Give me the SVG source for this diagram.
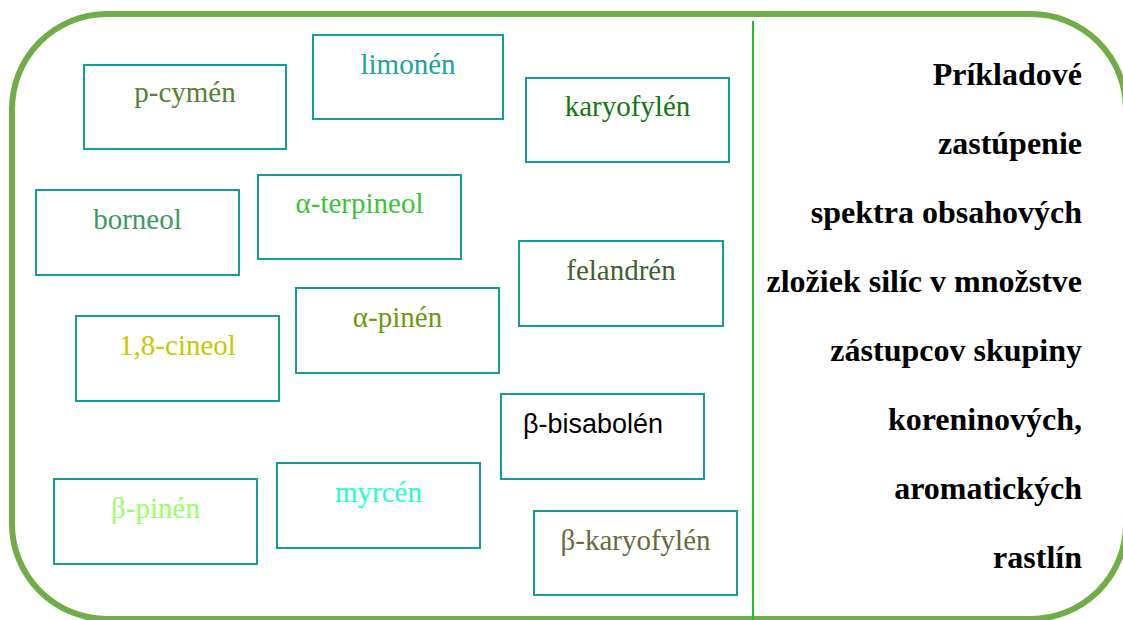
<svg xmlns="http://www.w3.org/2000/svg" width="1123" height="620" viewBox="0 0 1123 620">
<style>
.box{fill:#fff;stroke:#109E9A;stroke-width:2}
.lbl{font-family:'Liberation Serif','DejaVu Serif',serif;font-size:29px;text-anchor:middle}
.side{font-family:'Liberation Serif','DejaVu Serif',serif;font-size:32px;font-weight:bold;text-anchor:end;fill:#000}
</style>
<rect width="1123" height="620" fill="#fff"/>
<rect id="frame" x="12" y="14" width="1114" height="605" rx="95" ry="95" fill="none" stroke="#70AD47" stroke-width="6"/>
<g id="connectors">
<line x1="753" y1="21" x2="753" y2="620" stroke="#1DC31D" stroke-width="2"/>
</g>
<g id="n-pcymen"><rect class="box" x="84" y="65" width="202" height="84"/><text class="lbl" x="185" y="102" fill="#538135">p-cymén</text></g>
<g id="n-limonen"><rect class="box" x="313" y="35" width="190" height="84"/><text class="lbl" x="408" y="74" fill="#1CA4A0">limonén</text></g>
<g id="n-karyofylen"><rect class="box" x="526" y="78" width="203" height="84"/><text class="lbl" x="627.5" y="116" fill="#13790F">karyofylén</text></g>
<g id="n-borneol"><rect class="box" x="36" y="190" width="203" height="85"/><text class="lbl" x="137.5" y="229" fill="#3D9A5F">borneol</text></g>
<g id="n-aterpineol"><rect class="box" x="258" y="175" width="203" height="84"/><text class="lbl" x="359.5" y="213" fill="#3BC43B">α-terpineol</text></g>
<g id="n-felandren"><rect class="box" x="519" y="241" width="204" height="85"/><text class="lbl" x="621" y="280" fill="#3F5F2E">felandrén</text></g>
<g id="n-cineol"><rect class="box" x="76" y="316" width="203" height="85"/><text class="lbl" x="177.5" y="355" fill="#C8C800">1,8-cineol</text></g>
<g id="n-apinen"><rect class="box" x="296" y="288" width="203" height="85"/><text class="lbl" x="397.5" y="327" fill="#6B9A0C">α-pinén</text></g>
<g id="n-bbisabolen"><rect class="box" x="501" y="394" width="203" height="85"/><text x="523" y="433" font-family="'Liberation Sans',Arial,sans-serif" font-size="27" fill="#000">β-bisabolén</text></g>
<g id="n-bkaryofylen"><rect class="box" x="534" y="511" width="203" height="84"/><text class="lbl" x="635.5" y="550" fill="#6A6A3C">β-karyofylén</text></g>
<g id="n-bpinen"><rect class="box" x="54" y="479" width="203" height="85"/><text class="lbl" x="155.5" y="518" fill="#99FF66">β-pinén</text></g>
<g id="n-myrcen"><rect class="box" x="277" y="463" width="203" height="85"/><text class="lbl" x="378.5" y="502" fill="#22FFCC">myrcén</text></g>
<g id="side-text">
<text class="side" x="1082" y="85">Príkladové</text>
<text class="side" x="1082" y="154">zastúpenie</text>
<text class="side" x="1082" y="223">spektra obsahových</text>
<text class="side" x="1082" y="292">zložiek silíc v množstve</text>
<text class="side" x="1082" y="361">zástupcov skupiny</text>
<text class="side" x="1082" y="430">koreninových,</text>
<text class="side" x="1082" y="499">aromatických</text>
<text class="side" x="1082" y="568">rastlín</text>
</g>
</svg>
